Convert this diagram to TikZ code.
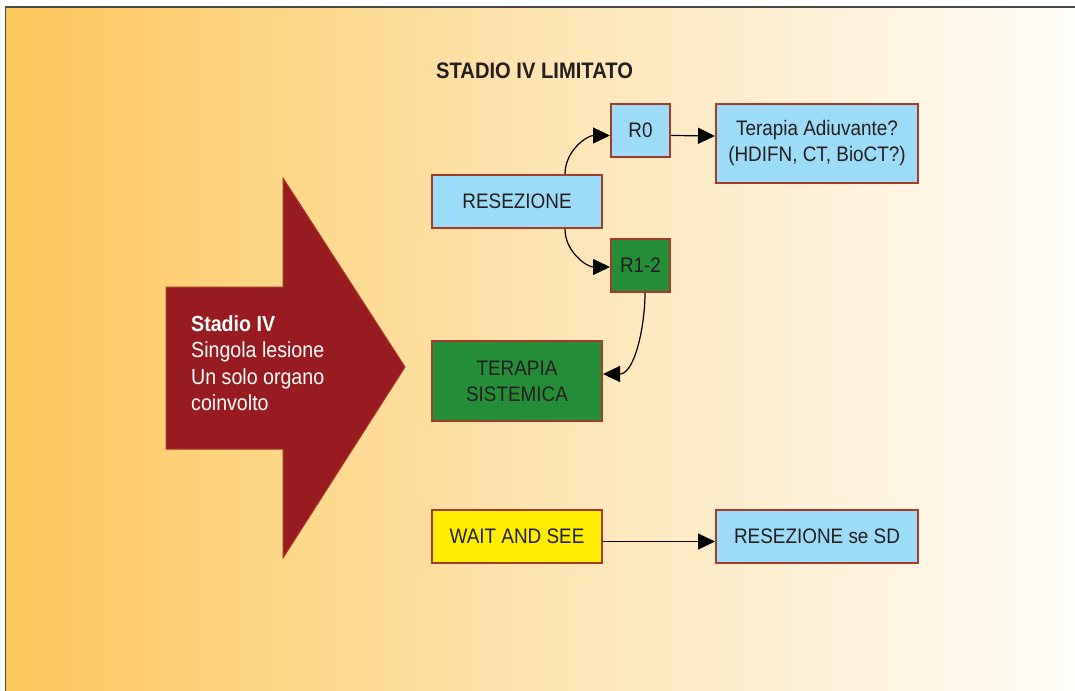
\documentclass[tikz,border=0pt]{standalone}
\usepackage{fontspec}
\setmainfont{Liberation Sans}[FakeStretch=0.9]
\usetikzlibrary{arrows.meta}

\definecolor{bgL}{HTML}{FCC75A}
\definecolor{bgM}{HTML}{FEE4B2}
\definecolor{bgR}{HTML}{FFFDF8}
\definecolor{frameline}{HTML}{4A4A4A}
\definecolor{boxline}{HTML}{A63A29}
\definecolor{skyfill}{HTML}{9DDCF9}
\definecolor{greenfill}{HTML}{248D36}
\definecolor{yellowfill}{HTML}{FFEE00}
\definecolor{arrowred}{HTML}{971B1F}
\definecolor{arrowedge}{HTML}{A8382A}
\definecolor{ink}{HTML}{231F20}

% the filled path spans 25bp..75bp of the shading
\pgfdeclarehorizontalshading{bgshade}{100bp}{color(0bp)=(bgL); color(25bp)=(bgL); color(50bp)=(bgM); color(75bp)=(bgR); color(100bp)=(bgR)}

\tikzset{
  boxtext/.style={font=\fontsize{21}{26}\selectfont, text=ink, align=center},
  flowbox/.style={boxtext, draw=boxline, line width=2pt, inner sep=0pt},
  bluebox/.style={flowbox, fill=skyfill},
  greenbox/.style={flowbox, fill=greenfill},
  yellowbox/.style={flowbox, fill=yellowfill},
  link/.style={draw=black, line width=1.2pt, -{Triangle[length=17pt,width=16pt]}},
}

\begin{document}
\begin{tikzpicture}[x=1pt,y=-1pt]
  \useasboundingbox (0,0) rectangle (1075,690);

  % background panel with its frame
  \shade[shading=bgshade] (5.5,7) rectangle (1075,690);
  \draw[frameline, line width=1.5pt] (5.5,695) -- (5.5,7) -- (1080,7);

  % big arrow on the left
  \draw[fill=arrowred, draw=arrowedge, line width=1pt]
    (166,287) -- (283,287) -- (283,178) -- (405,367) -- (283,558)
    -- (283,449) -- (166,449) -- cycle;
  \node[anchor=north west, inner sep=0pt, text=white, align=left,
        font=\fontsize{21.8}{26.5}\selectfont] (stadio) at (191,315)
    {\textbf{Stadio IV}\\Singola lesione\\Un solo organo\\coinvolto};

  % title
  \node[anchor=base west, inner sep=0pt, text=ink,
        font=\fontsize{22.4}{26}\selectfont\bfseries] (title) at (436,79)
    {STADIO IV LIMITATO};

  % flow boxes
  \node[bluebox, minimum width=59pt, minimum height=53pt] (r0) at (640.5,130.5) {R0};
  \node[bluebox, minimum width=202pt, minimum height=79pt] (adiuv) at (817,143.5)
    {Terapia Adiuvante?\\(HDIFN, CT, BioCT?)};
  \node[bluebox, minimum width=170pt, minimum height=53pt] (resez) at (517,201.5) {RESEZIONE};
  \node[greenbox, minimum width=59pt, minimum height=53pt] (r12) at (640.5,265.5) {R1-2};
  \node[greenbox, minimum width=170pt, minimum height=80pt] (sist) at (517,381)
    {TERAPIA\\SISTEMICA};
  \node[yellowbox, minimum width=170pt, minimum height=53pt] (wait) at (517,536.5) {WAIT AND SEE};
  \node[bluebox, minimum width=202pt, minimum height=53pt] (sd) at (817,536.5) {RESEZIONE se SD};

  % connectors (yshift is in page direction: negative moves down)
  \draw[link] ([xshift=48pt]resez.north) to[out=90, in=180] ([yshift=-5pt]r0.west);
  \draw[link] ([yshift=-5pt]r0.east) -- ([yshift=7.5pt]adiuv.west);
  \draw[link] ([xshift=48pt]resez.south) to[out=-90, in=180] ([yshift=-1.5pt]r12.west);
  \draw[link] ([xshift=4.5pt]r12.south) to[out=-90, in=0, looseness=0.9] ([yshift=7pt]sist.east);
  \draw[link] ([yshift=-5pt]wait.east) -- ([yshift=-5pt]sd.west);
\end{tikzpicture}
\end{document}
